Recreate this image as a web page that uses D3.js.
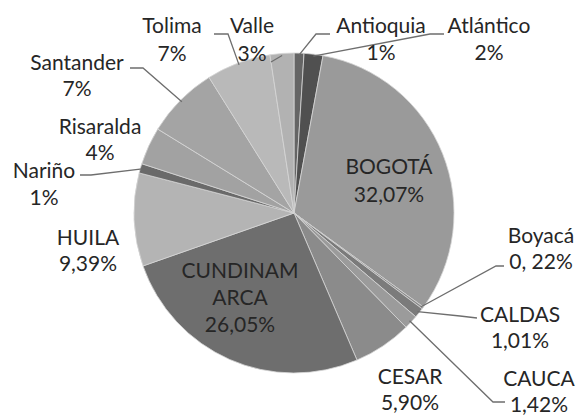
<!DOCTYPE html>
<html>
<head>
<meta charset="utf-8">
<script src="https://cdn.jsdelivr.net/npm/d3@7"></script>
<style>
  html, body { margin: 0; padding: 0; background: #ffffff; }
  svg { display: block; }
</style>
</head>
<body>
<svg id="chart" width="581" height="415"></svg>
<script>
// ---- data ----
const categories = ["Antioquia","Atlántico","BOGOTÁ","Boyacá","CALDAS","CAUCA","CESAR","CUNDINAMARCA","HUILA","Nariño","Risaralda","Santander","Tolima","Valle"];
const values = [1.0, 1.9, 32.07, 0.22, 1.01, 1.42, 5.90, 26.05, 9.39, 0.95, 3.8, 7.3, 6.5, 2.4];
const nameLabels = [["Antioquia"],["Atlántico"],["BOGOTÁ"],["Boyacá"],["CALDAS"],["CAUCA"],["CESAR"],["CUNDINAM","ARCA"],["HUILA"],["Nariño"],["Risaralda"],["Santander"],["Tolima"],["Valle"]];
const valueLabels = ["1%","2%","32,07%","0, 22%","1,01%","1,42%","5,90%","26,05%","9,39%","1%","4%","7%","7%","3%"];

// ---- layout (positions and styles, separate from data) ----
const W = 581, H = 415;
const cx = 294, cy = 213, R = 160;
const fills = ["#656565","#505050","#9a9a9a","#8a8a8a","#7b7b7b","#9b9b9b","#8b8b8b","#6e6e6e","#b4b4b4","#6a6a6a","#a2a2a2","#a4a4a4","#b9b9b9","#b2b2b2"];
const lineH = 27;
// label anchor: centre x, first baseline y
const labelPos = [
  {x:381, y:33}, {x:489, y:33}, {x:389, y:174}, {x:541, y:243},
  {x:520, y:322}, {x:539, y:386}, {x:410, y:384}, {x:240, y:278},
  {x:88, y:245}, {x:44, y:178}, {x:100, y:134}, {x:77, y:70},
  {x:172, y:33}, {x:252, y:33}
];
const lineHs = [27,27,28,26,26,26,26,27,26,27,26,26,28,28];
// leader line waypoints after the slice edge point (null = no leader)
const leaders = [
  [[316,34],[330,34]],
  [[430,34],[444,34]],
  null,
  [[496,266],[504,266]],
  [[460,316],[477,318]],
  [[493,402],[505,402]],
  null, null, null,
  [[91,175],[80,175]],
  null,
  [[143,68],[130,68]],
  [[228,34],[214,34]],
  [[271,62]]
];

const svg = d3.select("#chart");
const g = svg.append("g").attr("transform", `translate(${cx},${cy})`);

const pie = d3.pie().value(d => d).sort(null);
const arcs = pie(values);
const arc = d3.arc().innerRadius(0).outerRadius(R);
const edgeArc = d3.arc().innerRadius(R - 2).outerRadius(R - 2);

g.selectAll("path.slice")
  .data(arcs)
  .enter().append("path")
  .attr("class", "slice")
  .attr("d", arc)
  .attr("fill", (d, i) => fills[i])
  .attr("stroke", "#d6d6d6")
  .attr("stroke-width", 0.8);

// leader lines
const line = d3.line();
arcs.forEach((a, i) => {
  if (!leaders[i]) return;
  const [ex, ey] = edgeArc.centroid(a);
  const pts = [[ex + cx, ey + cy]].concat(leaders[i]);
  svg.append("path")
    .attr("d", line(pts))
    .attr("fill", "none")
    .attr("stroke", "#6e6e6e")
    .attr("stroke-width", 1.3);
});

// labels
categories.forEach((c, i) => {
  const lines = nameLabels[i].concat([valueLabels[i]]);
  const t = svg.append("text")
    .attr("text-anchor", "middle")
    .attr("font-family", "Lato, 'Open Sans', sans-serif")
    .attr("font-size", 21)
    .attr("fill", "#262626");
  lines.forEach((s, k) => {
    t.append("tspan")
      .attr("x", labelPos[i].x)
      .attr("y", labelPos[i].y + k * lineHs[i])
      .text(s);
  });
});
</script>
</body>
</html>
